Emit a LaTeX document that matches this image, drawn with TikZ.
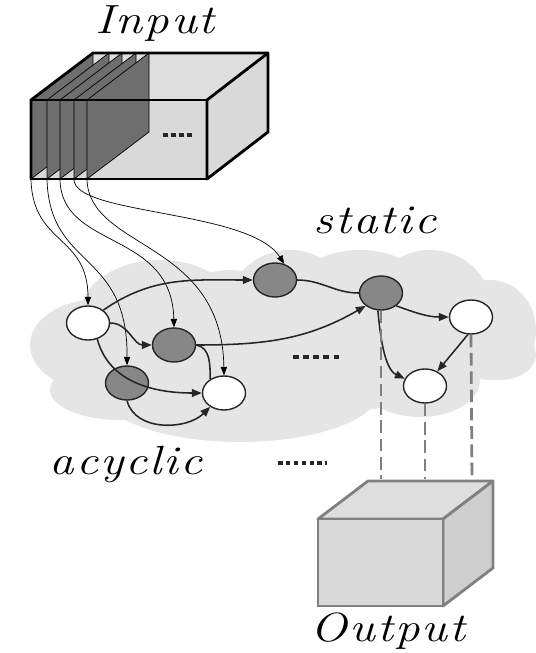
\documentclass[tikz,border=0pt]{standalone}
\usepackage{fontspec}
\usetikzlibrary{shapes.geometric, arrows.meta}

\newfontfamily\lblfont[LetterSpace=5, FakeStretch=1.2]{Latin Modern Roman}
\definecolor{cloudgray}{gray}{0.9}
\definecolor{nodegray}{gray}{0.53}
\definecolor{slicegray}{gray}{0.43}
\definecolor{facegray}{gray}{0.85}
\definecolor{topgray}{gray}{0.87}
\definecolor{edgegray}{gray}{0.5}

\begin{document}
\begin{tikzpicture}[x=0.025cm, y=-0.025cm,
        vert/.style={ellipse, draw=black!85, line width=1pt, fill=white, minimum width=1.075cm, minimum height=0.85cm, inner sep=0pt},
        darkvert/.style={vert, fill=nodegray},
        edge/.style={-{Triangle[length=7pt,width=5.5pt]}, line width=1.1pt, draw=black!85},
        plain/.style={line width=1.1pt, draw=black!85},
        feed/.style={-{Triangle[length=6pt,width=4.5pt]}, line width=0.5pt, draw=black},
        proj/.style={dashed, dash pattern=on 9pt off 4pt, draw=edgegray},
        dots/.style={line width=3pt, draw=black!85},
        lbl/.style={font=\fontsize{29}{31}\lblfont\itshape, inner sep=0pt, anchor=base}
    ]
        \useasboundingbox (0,0) rectangle (536,653);

        % Cloud (background)
        \fill[cloudgray] (95,345) ellipse (65 and 45);
        \fill[cloudgray] (120,390) ellipse (70 and 30);
        \fill[cloudgray] (160,315) ellipse (80 and 55);
        \fill[cloudgray] (240,390) ellipse (140 and 52);
        \fill[cloudgray] (230,320) ellipse (60 and 50);
        \fill[cloudgray] (290,305) ellipse (60 and 55);
        \fill[cloudgray] (360,330) ellipse (90 and 80);
        \fill[cloudgray] (430,305) ellipse (60 and 55);
        \fill[cloudgray] (490,330) ellipse (46 and 50);
        \fill[cloudgray] (420,380) ellipse (60 and 37);
        \fill[cloudgray] (500,355) ellipse (36 and 25);

        % Input box
        \fill[topgray] (31,100) -- (93,53) -- (268,53) -- (207,100) -- cycle;
        \fill[facegray] (31,100) rectangle (207,179);
        \foreach \sx in {31,47,60,74,87}
            \filldraw[fill=slicegray, draw=black, line width=0.5pt] (\sx,179) -- (\sx,100) -- (\sx+62,53) -- (\sx+62,132) -- cycle;
        \filldraw[fill=facegray, draw=black, line width=2pt, line join=round] (207,100) -- (268,53) -- (268,132) -- (207,179) -- cycle;
        \draw[black, line width=2pt, line join=round] (31,179) -- (31,100) -- (93,53) -- (268,53);
        \draw[black, line width=2pt] (31,100) rectangle (207,179);
        \draw[dots, dash pattern=on 3.5pt off 2.3pt] (163,135) -- (193,135);
        \node[lbl] (input) at (155,33) {Input};

        % Slice outlets
        \coordinate (s1) at (31,180);
        \coordinate (s2) at (47,180);
        \coordinate (s3) at (60,180);
        \coordinate (s4) at (74,180);
        \coordinate (s5) at (87,180);

        % Graph nodes
        \node[vert] (a) at (88,323) {};
        \node[darkvert] (b) at (174,345) {};
        \node[darkvert] (c) at (127,383) {};
        \node[vert] (d) at (224,393) {};
        \node[darkvert] (e) at (275,280) {};
        \node[darkvert] (f) at (381,293) {};
        \node[vert] (g) at (471,317) {};
        \node[vert] (h) at (425,386) {};

        % Feeds from the input slices
        \draw[feed] (s1) .. controls (33,245) and (88,235) .. (a.north);
        \draw[feed] (s2) .. controls (50,270) and (128,250) .. (c.north);
        \draw[feed] (s3) .. controls (62,250) and (172,230) .. (b.north);
        \draw[feed] (s4) .. controls (76,215) and (250,210) .. (e.60);
        \draw[feed] (s5) .. controls (90,250) and (222,240) .. (d.north);

        % Edges
        \draw[edge] (a.40) to[out=35, in=180] (e.west);
        \draw[edge] (a.east) to[out=0, in=180] (b.west);
        \draw[edge] (a.-60) to[out=-75, in=180] (d.west);
        \draw[edge] (c.south) to[out=-75, in=-135] (d.-135);
        \draw[plain] (b.east) to[out=-10, in=90] (d.135);
        \draw[edge] (b.east) to[out=0, in=210] (f.-140);
        \draw[plain] (e.east) to[out=0, in=180] (f.west);
        \draw[edge] (f.-40) to[out=-20, in=180] (g.west);
        \draw[edge] (f.-100) to[out=-85, in=155, looseness=0.8] (h.160);
        \draw[edge] (g.-100) -- (h.50);
        \draw[dots, dash pattern=on 4pt off 3.2pt] (293,357) -- (343,357);
        \node[lbl] (static) at (375,233) {static};
        \node[lbl] (acyclic) at (126,474) {acyclic};
        \draw[dots, dash pattern=on 3.2pt off 2.4pt, line width=2.8pt] (278,463) -- (327,463);

        % Output box
        \coordinate (p1) at (381,479);
        \coordinate (p2) at (425,479);
        \coordinate (p3) at (472,479);
        \draw[proj, line width=1.2pt] (f.south) -- (p1);
        \draw[proj, line width=2pt] (h.south) -- (p2);
        \draw[proj, line width=2pt] (g.south) -- (p3);
        \filldraw[fill=topgray, draw=edgegray, line width=2pt, line join=round] (318,519) -- (368,481) -- (493,481) -- (443,519) -- cycle;
        \filldraw[fill=facegray!95!black, draw=edgegray, line width=2pt, line join=round] (443,519) -- (493,481) -- (493,568) -- (443,606) -- cycle;
        \filldraw[fill=facegray, draw=edgegray, line width=2pt] (318,519) rectangle (443,606);
        \node[lbl] (output) at (388,641) {Output};
\end{tikzpicture}
\end{document}
